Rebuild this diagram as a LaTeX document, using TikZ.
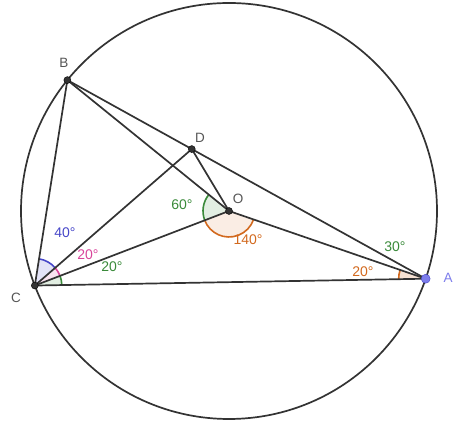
\documentclass[tikz,border=0pt]{standalone}
\usepackage{fontspec}
\setmainfont{Liberation Sans}
\usetikzlibrary{calc}
\definecolor{ggblue}{HTML}{4646C8}
\definecolor{ggpink}{HTML}{D8449A}
\definecolor{gggreen}{HTML}{3A8A3A}
\definecolor{ggorange}{HTML}{D2691E}
\definecolor{ptA}{HTML}{7D7DEB}
\definecolor{lbl}{HTML}{555555}
\definecolor{lineg}{HTML}{333333}
\tikzset{
  seg/.style={draw=lineg, line width=1.7pt},
  dotpt/.style={circle, fill=lineg, draw=black, inner sep=0pt, minimum size=7pt},
  dotA/.style={circle, fill=ptA, draw=ggblue, inner sep=0pt, minimum size=9pt},
  ptlabel/.style={text=lbl, font=\fontsize{13.5}{13.5}\selectfont},
  anglbl/.style={font=\fontsize{14}{14}\selectfont},
  angmark/.style={line width=1.6pt},
}
\begin{document}
\begin{tikzpicture}[x=1pt,y=1pt]
\useasboundingbox (0,0) rectangle (474,427);
\coordinate (O) at (229,216);
\coordinate (A) at ($(O)+(341:208)$);
\coordinate (B) at ($(O)+(141:208)$);
\coordinate (C) at ($(O)+(201:208)$);
\coordinate (D) at ($(C)+(41:208)$);
% angle marks
\fill[ggblue, fill opacity=0.15] (C) -- ($(C)+(41:27)$) arc[start angle=41, end angle=81, radius=27] -- cycle;
\draw[ggblue, angmark] ($(C)+(41:27)$) arc[start angle=41, end angle=81, radius=27];
\fill[ggpink, fill opacity=0.15] (C) -- ($(C)+(21:27)$) arc[start angle=21, end angle=41, radius=27] -- cycle;
\draw[ggpink, angmark] ($(C)+(21:27)$) arc[start angle=21, end angle=41, radius=27];
\fill[gggreen, fill opacity=0.15] (C) -- ($(C)+(1:27)$) arc[start angle=1, end angle=21, radius=27] -- cycle;
\draw[gggreen, angmark] ($(C)+(1:27)$) arc[start angle=1, end angle=21, radius=27];
\fill[gggreen, fill opacity=0.15] (O) -- ($(O)+(141:26)$) arc[start angle=141, end angle=201, radius=26] -- cycle;
\draw[gggreen, angmark] ($(O)+(141:26)$) arc[start angle=141, end angle=201, radius=26];
\fill[ggorange, fill opacity=0.12] (O) -- ($(O)+(201:26)$) arc[start angle=201, end angle=341, radius=26] -- cycle;
\draw[ggorange, angmark] ($(O)+(201:26)$) arc[start angle=201, end angle=341, radius=26];
\fill[ggorange, fill opacity=0.2] (A) -- ($(A)+(161:27)$) arc[start angle=161, end angle=181, radius=27] -- cycle;
\draw[ggorange, angmark] ($(A)+(161:27)$) arc[start angle=161, end angle=181, radius=27];
% circle and segments
\draw[lineg, line width=1.7pt] (O) circle[radius=208];
\draw[seg] (B) -- (C);
\draw[seg] (B) -- (A);
\draw[seg] (B) -- (O);
\draw[seg] (C) -- (A);
\draw[seg] (C) -- (D);
\draw[seg] (C) -- (O);
\draw[seg] (O) -- (A);
\draw[seg] (D) -- (O);
% points
\node[dotpt] (nB) at (B) {};
\node[dotpt] (nC) at (C) {};
\node[dotpt] (nD) at (D) {};
\node[dotpt] (nO) at (O) {};
\node[dotA] (nA) at (A) {};
% point labels
\node[ptlabel] (lB) at (64,364) {B};
\node[ptlabel] (lD) at (200,289) {D};
\node[ptlabel] (lO) at (238,228) {O};
\node[ptlabel] (lC) at (16,129) {C};
\node[ptlabel, text=ptA] (lA) at (448,149) {A};
% angle labels
\node[anglbl, text=ggblue] (t40) at (65,194) {40°};
\node[anglbl, text=ggpink] (t20a) at (88,172) {20°};
\node[anglbl, text=gggreen] (t20b) at (112,160) {20°};
\node[anglbl, text=gggreen] (t60) at (182,222) {60°};
\node[anglbl, text=ggorange] (t140) at (248,187) {140°};
\node[anglbl, text=gggreen] (t30) at (395,180) {30°};
\node[anglbl, text=ggorange] (t20c) at (363,155) {20°};
\end{tikzpicture}
\end{document}
